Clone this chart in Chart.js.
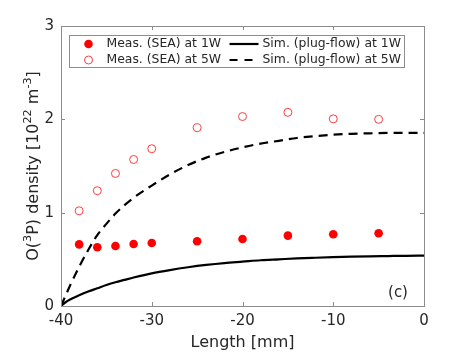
<!DOCTYPE html>
<html><head><meta charset="utf-8">
<script src="https://cdn.jsdelivr.net/npm/chart.js@4/dist/chart.umd.min.js"></script>
<style>html,body{margin:0;padding:0;background:#fff}#wrap{width:469px;height:352px;position:relative}</style>
</head><body><div id="wrap"><canvas id="c" width="469" height="352"></canvas></div>
<script>
// ---- data ----
const measX  = [-38, -36, -34, -32, -30, -25, -20, -15, -10, -5];
const meas1W = [0.66, 0.63, 0.643, 0.665, 0.675, 0.693, 0.718, 0.754, 0.768, 0.779];
const meas5W = [1.02, 1.235, 1.42, 1.57, 1.685, 1.91, 2.03, 2.075, 2.005, 2.0];
const simX   = [-40, -39.5, -39, -38, -37, -36, -35, -34, -33, -32, -30, -28, -26, -24, -22, -20, -18, -16, -14, -12, -10, -8, -6, -4, -2, 0];
const sim1W  = [0, 0.04, 0.07, 0.115, 0.155, 0.19, 0.225, 0.255, 0.28, 0.305, 0.35, 0.385, 0.415, 0.44, 0.46, 0.475, 0.49, 0.5, 0.51, 0.517, 0.523, 0.528, 0.532, 0.535, 0.538, 0.54];
const sim5W  = [0, 0.11, 0.22, 0.42, 0.6, 0.76, 0.88, 0.99, 1.08, 1.16, 1.29, 1.41, 1.51, 1.59, 1.65, 1.7, 1.74, 1.77, 1.8, 1.82, 1.835, 1.845, 1.85, 1.855, 1.855, 1.855];
const xTicks = [-40, -30, -20, -10, 0];
const yTicks = [0, 1, 2, 3];
const seriesNames = ['Meas. (SEA) at 1W', 'Meas. (SEA) at 5W', 'Sim. (plug-flow) at 1W', 'Sim. (plug-flow) at 5W'];

const FONT = '"DejaVu Sans", sans-serif';
const TXT = '#262626';
const AX = '#8c8c8c';
const pts = (xs, ys) => xs.map((x, i) => ({x: x, y: ys[i]}));

function richWidth(ctx, segs, size) {
  let w = 0;
  segs.forEach(s => { ctx.font = (s.sup ? size * 0.7 : size) + 'px ' + FONT; w += ctx.measureText(s.t).width; });
  return w;
}
function drawRich(ctx, segs, size) {
  let w = richWidth(ctx, segs, size);
  let x = -w / 2;
  ctx.textAlign = 'left';
  ctx.textBaseline = 'alphabetic';
  segs.forEach(s => {
    const fs = s.sup ? size * 0.7 : size;
    ctx.font = fs + 'px ' + FONT;
    ctx.fillText(s.t, x, s.sup ? -size * 0.45 : 0);
    x += ctx.measureText(s.t).width;
  });
}

const deco = {
  id: 'deco',
  afterDraw(chart) {
    const ctx = chart.ctx, a = chart.chartArea;
    const xs = chart.scales.x, ys = chart.scales.y;
    ctx.save();
    // box
    ctx.strokeStyle = AX; ctx.lineWidth = 1;
    ctx.strokeRect(Math.round(a.left) + 0.5, Math.round(a.top) + 0.5, Math.round(a.right - a.left), Math.round(a.bottom - a.top));
    // inside ticks on all sides
    const tl = 4;
    ctx.beginPath();
    xTicks.forEach(v => {
      const px = Math.round(xs.getPixelForValue(v)) + 0.5;
      ctx.moveTo(px, a.bottom); ctx.lineTo(px, a.bottom - tl);
      ctx.moveTo(px, a.top); ctx.lineTo(px, a.top + tl);
    });
    yTicks.forEach(v => {
      const py = Math.round(ys.getPixelForValue(v)) + 0.5;
      ctx.moveTo(a.left, py); ctx.lineTo(a.left + tl, py);
      ctx.moveTo(a.right, py); ctx.lineTo(a.right - tl, py);
    });
    ctx.stroke();

    // (c) label
    ctx.fillStyle = TXT;
    ctx.font = '15px ' + FONT;
    ctx.textAlign = 'center'; ctx.textBaseline = 'middle';
    ctx.fillText('(c)', a.right - 26, a.bottom - 13);

    // x title
    ctx.font = '16px ' + FONT;
    ctx.textAlign = 'center'; ctx.textBaseline = 'alphabetic';
    ctx.fillText('Length [mm]', (a.left + a.right) / 2, 347);

    // y title with superscripts
    ctx.save();
    ctx.translate(38, (a.top + a.bottom) / 2);
    ctx.rotate(-Math.PI / 2);
    ctx.fillStyle = TXT;
    drawRich(ctx, [
      {t: 'O('}, {t: '3', sup: true}, {t: 'P) density [10'}, {t: '22', sup: true}, {t: ' m'}, {t: '-3', sup: true}, {t: ']'}
    ], 16);
    ctx.restore();

    // legend
    const lx = a.left + 8.5, ly = a.top + 9.5, lw = 335, lh = 32;
    ctx.fillStyle = '#fff';
    ctx.fillRect(lx, ly, lw, lh);
    ctx.strokeStyle = AX; ctx.lineWidth = 1;
    ctx.strokeRect(lx, ly, lw, lh);
    const r1 = ly + 8.5, r2 = ly + 24.5;
    // markers
    ctx.fillStyle = 'rgb(255,0,0)';
    ctx.beginPath(); ctx.arc(lx + 19, r1, 4.3, 0, Math.PI * 2); ctx.fill();
    ctx.strokeStyle = 'rgb(255,60,60)'; ctx.lineWidth = 1;
    ctx.beginPath(); ctx.arc(lx + 19, r2, 4, 0, Math.PI * 2); ctx.stroke();
    ctx.strokeStyle = '#000'; ctx.lineWidth = 2.2;
    ctx.setLineDash([]);
    ctx.beginPath(); ctx.moveTo(lx + 160, r1); ctx.lineTo(lx + 189, r1); ctx.stroke();
    ctx.setLineDash([8, 7]);
    ctx.beginPath(); ctx.moveTo(lx + 160, r2); ctx.lineTo(lx + 189, r2); ctx.stroke();
    ctx.setLineDash([]);
    ctx.fillStyle = TXT;
    ctx.font = '12.4px ' + FONT;
    ctx.textAlign = 'left'; ctx.textBaseline = 'middle';
    ctx.fillText(seriesNames[0], lx + 37, r1);
    ctx.fillText(seriesNames[1], lx + 37, r2);
    ctx.fillText(seriesNames[2], lx + 193, r1);
    ctx.fillText(seriesNames[3], lx + 193, r2);
    ctx.restore();
  }
};

new Chart(document.getElementById('c'), {
  type: 'scatter',
  data: {
    datasets: [
      {label: seriesNames[0], data: pts(measX, meas1W), backgroundColor: 'rgb(255,0,0)', borderColor: 'rgb(255,0,0)', pointRadius: 4.3, borderWidth: 0, showLine: false, order: 2},
      {label: seriesNames[1], data: pts(measX, meas5W), backgroundColor: 'rgba(0,0,0,0)', borderColor: 'rgb(255,60,60)', pointRadius: 4, borderWidth: 1, showLine: false, order: 2},
      {label: seriesNames[2], data: pts(simX, sim1W), borderColor: '#000', borderWidth: 2.2, pointRadius: 0, showLine: true, cubicInterpolationMode: 'monotone', fill: false, order: 1},
      {label: seriesNames[3], data: pts(simX, sim5W), borderColor: '#000', borderWidth: 2.2, borderDash: [9, 6], pointRadius: 0, showLine: true, cubicInterpolationMode: 'monotone', fill: false, order: 1}
    ]
  },
  options: {
    responsive: false,
    animation: false,
    devicePixelRatio: 1,
    layout: {padding: {left: 0, top: 26, right: 45, bottom: 0}},
    plugins: {legend: {display: false}, tooltip: {enabled: false}},
    scales: {
      x: {
        type: 'linear', min: -40, max: 0,
        afterBuildTicks: s => { s.ticks = xTicks.map(v => ({value: v})); },
        afterFit: s => { s.height = 46; },
        grid: {display: false, drawTicks: false},
        border: {display: false},
        ticks: {color: TXT, font: {family: FONT, size: 15}, padding: 6, maxRotation: 0}
      },
      y: {
        type: 'linear', min: 0, max: 3,
        afterBuildTicks: s => { s.ticks = yTicks.map(v => ({value: v})); },
        afterFit: s => { s.width = 61; },
        grid: {display: false, drawTicks: false},
        border: {display: false},
        ticks: {color: TXT, font: {family: FONT, size: 15}, padding: 7}
      }
    }
  },
  plugins: [deco]
});
</script>
</body></html>
